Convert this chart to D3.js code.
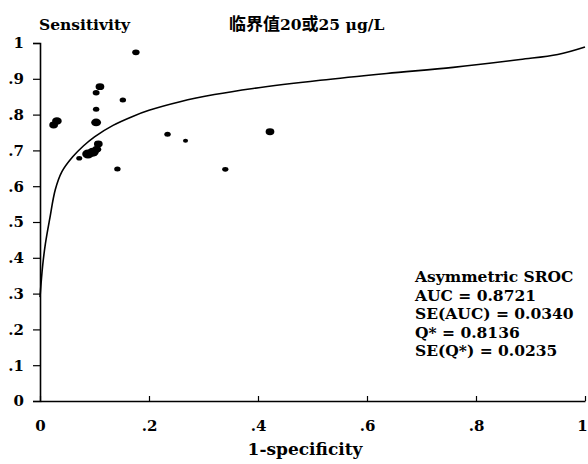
<!DOCTYPE html>
<html>
<head>
<meta charset="utf-8">
<script src="https://cdn.jsdelivr.net/npm/d3@7"></script>
<style>
  body { margin: 0; background: #fff; }
  svg { display: block; }
</style>
</head>
<body>
<div id="chart"></div>
<script>
// study points: 1-specificity, sensitivity, relative weight (dot size)
const fpr = [0.176, 0.110, 0.103, 0.152, 0.103, 0.031, 0.025, 0.103, 0.107, 0.088, 0.097, 0.104, 0.072, 0.142, 0.234, 0.267, 0.422, 0.340];
const sens = [0.974, 0.878, 0.861, 0.841, 0.815, 0.782, 0.771, 0.778, 0.718, 0.690, 0.695, 0.703, 0.678, 0.648, 0.745, 0.727, 0.752, 0.647];
const weight = [3.2, 3.8, 3, 2.8, 2.8, 4.2, 3.8, 4.3, 3.8, 5, 5, 4, 2.6, 2.8, 2.8, 2.2, 3.8, 2.7];

// fitted asymmetric SROC curve
const curveX = [0, 0.005, 0.01, 0.018, 0.028, 0.04, 0.06, 0.08, 0.1, 0.134, 0.17, 0.2, 0.257, 0.32, 0.391, 0.514, 0.636, 0.758, 0.881, 0.95, 1.0];
const curveY = [0.29, 0.38, 0.44, 0.51, 0.59, 0.64, 0.682, 0.713, 0.738, 0.77, 0.795, 0.812, 0.836, 0.856, 0.873, 0.896, 0.915, 0.932, 0.954, 0.968, 0.989];

const ticks = [0, 0.1, 0.2, 0.3, 0.4, 0.5, 0.6, 0.7, 0.8, 0.9, 1];
const xTicks = [0, 0.2, 0.4, 0.6, 0.8, 1];

const statLines = ["Asymmetric SROC", "AUC = 0.8721", "SE(AUC) = 0.0340", "Q* = 0.8136", "SE(Q*) = 0.0235"];

let width = 588;
let height = 464;
let margin = { top: 43, right: 3, bottom: 63, left: 40 };

const serif = "'DejaVu Serif', 'Liberation Serif', serif";

let svg = d3
  .select("#chart")
  .append("svg")
  .attr("width", width)
  .attr("height", height);

let x = d3.scaleLinear().domain([0, 1]).range([margin.left, width - margin.right]);
let y = d3.scaleLinear().domain([0, 1]).range([height - margin.bottom, margin.top]);

const fmt = (d) => (d === 0 ? "0" : d === 1 ? "1" : d3.format(".1f")(d).replace("0.", "."));

// y axis
let yAxis = svg
  .append("g")
  .attr("transform", `translate(${margin.left},0)`)
  .call(d3.axisLeft(y).tickValues(ticks).tickFormat(fmt).tickSizeOuter(0).tickSize(7).tickPadding(9));

// x axis, ticks pointing up
let xAxis = svg
  .append("g")
  .attr("transform", `translate(0,${height - margin.bottom})`)
  .call(d3.axisBottom(x).tickValues(xTicks).tickFormat(fmt).tickSizeOuter(0).tickSize(0).tickPadding(19));

xAxis.selectAll(".tick line").attr("y2", -5);
// keep the last label inside the frame
xAxis.selectAll(".tick text").filter((d) => d === 1).attr("dx", -3);

svg.selectAll(".domain").attr("stroke", "#000").attr("stroke-width", 1.6);
svg.selectAll(".tick line").attr("stroke", "#000").attr("stroke-width", 1.2);
svg
  .selectAll(".tick text")
  .attr("fill", "#000")
  .style("font-family", serif)
  .style("font-weight", "bold")
  .style("font-size", "15px");

// SROC curve
let line = d3
  .line()
  .x((d, i) => x(curveX[i]))
  .y((d) => y(d))
  .curve(d3.curveCatmullRom.alpha(0.5));

svg
  .append("path")
  .attr("d", line(curveY))
  .attr("fill", "none")
  .attr("stroke", "#000")
  .attr("stroke-width", 1.6);

// study points
svg
  .selectAll("ellipse.pt")
  .data(sens)
  .enter()
  .append("ellipse")
  .attr("class", "pt")
  .attr("cx", (d, i) => x(fpr[i]))
  .attr("cy", (d) => y(d))
  .attr("rx", (d, i) => weight[i] * 1.15)
  .attr("ry", (d, i) => weight[i] * 0.9)
  .attr("fill", "#000");

// titles
svg
  .append("text")
  .attr("x", 39)
  .attr("y", 30)
  .style("font-family", serif)
  .style("font-weight", "bold")
  .style("font-size", "15.5px")
  .text("Sensitivity");

let title = svg
  .append("text")
  .attr("x", 229)
  .attr("y", 30)
  .style("font-weight", "bold")
  .style("font-size", "15.5px");
title.append("tspan").style("font-family", "'Noto Sans CJK SC'").style("font-size", "17px").text("临界值");
title.append("tspan").style("font-family", serif).text("20");
title.append("tspan").style("font-family", "'Noto Sans CJK SC'").style("font-size", "17px").text("或");
title.append("tspan").style("font-family", serif).text("25 μg/L");

svg
  .append("text")
  .attr("x", 305)
  .attr("y", 455)
  .attr("text-anchor", "middle")
  .style("font-family", serif)
  .style("font-weight", "bold")
  .style("font-size", "17px")
  .text("1-specificity");

// summary stats
svg
  .append("g")
  .selectAll("text")
  .data(statLines)
  .enter()
  .append("text")
  .attr("x", 415)
  .attr("y", (d, i) => 282 + i * 18.5)
  .style("font-family", serif)
  .style("font-weight", "bold")
  .style("font-size", "15.5px")
  .text((d) => d);
</script>
</body>
</html>
